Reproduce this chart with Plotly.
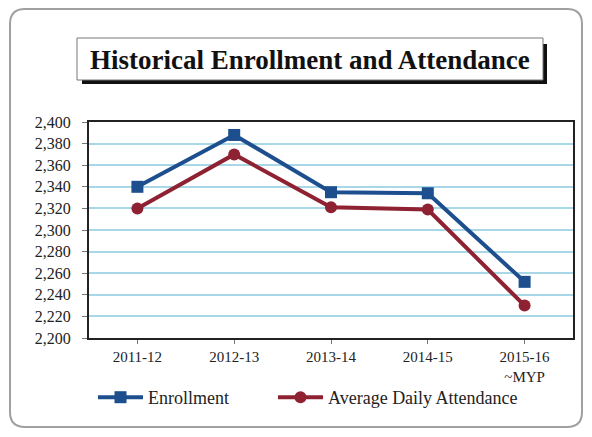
import plotly.graph_objects as go

years = ["2011-12", "2012-13", "2013-14", "2014-15", "2015-16<br>~MYP"]
enrollment = [2340, 2388, 2335, 2334, 2252]
attendance = [2320, 2370, 2321, 2319, 2230]
y_ticks = list(range(2200, 2401, 20))
y_labels = [f"{v:,}" for v in y_ticks]

blue = "#1D4F8F"
red = "#8E2232"
font_serif = "Liberation Serif"

# page has 8px body margin; figure coordinates are reference coords minus 8
W, H = 576, 421
L, R, T, B = 81, 11, 114, 91

fig = go.Figure()
fig.add_trace(go.Scatter(
    x=years, y=enrollment, mode="lines+markers", name="Enrollment",
    line=dict(color=blue, width=4),
    marker=dict(symbol="square", size=12, color=blue),
    legend="legend",
))
fig.add_trace(go.Scatter(
    x=years, y=attendance, mode="lines+markers", name="Average Daily Attendance",
    line=dict(color=red, width=4),
    marker=dict(symbol="circle", size=12, color=red),
    legend="legend2",
))

pw = W - L - R
ph = H - T - B
def px(x):
    return (x - 8 - L) / pw
def py(y):
    return (H - B - (y - 8)) / ph

r = 15
x0, x1, y0, y1 = 10, 582, 9, 427
path = (f"M {px(x0+r):.4f},{py(y0):.4f} L {px(x1-r):.4f},{py(y0):.4f} Q {px(x1):.4f},{py(y0):.4f} {px(x1):.4f},{py(y0+r):.4f} "
        f"L {px(x1):.4f},{py(y1-r):.4f} Q {px(x1):.4f},{py(y1):.4f} {px(x1-r):.4f},{py(y1):.4f} "
        f"L {px(x0+r):.4f},{py(y1):.4f} Q {px(x0):.4f},{py(y1):.4f} {px(x0):.4f},{py(y1-r):.4f} "
        f"L {px(x0):.4f},{py(y0+r):.4f} Q {px(x0):.4f},{py(y0):.4f} {px(x0+r):.4f},{py(y0):.4f} Z")

shapes = [
    dict(type="path", xref="paper", yref="paper", path=path,
         line=dict(color="#A0A0A0", width=2), fillcolor="rgba(0,0,0,0)", layer="above"),
    # title shadow
    dict(type="rect", xref="paper", yref="paper", x0=px(82), x1=px(547),
         y0=py(84), y1=py(44), line=dict(width=0), fillcolor="#111", layer="above"),
    # title box
    dict(type="rect", xref="paper", yref="paper", x0=px(77), x1=px(543),
         y0=py(80), y1=py(38), line=dict(color="#777", width=1), fillcolor="white",
         layer="above"),
]

legend_common = dict(orientation="h", xanchor="left", yanchor="top",
                     font=dict(family=font_serif, size=18, color="#222"),
                     itemwidth=45, bgcolor="rgba(0,0,0,0)")

fig.update_layout(
    width=W, height=H,
    margin=dict(l=L, r=R, t=T, b=B, autoexpand=False),
    paper_bgcolor="white", plot_bgcolor="white",
    font=dict(family=font_serif, size=15, color="#222"),
    showlegend=True,
    legend=dict(x=px(93), y=py(379), **legend_common),
    legend2=dict(x=px(273), y=py(379), **legend_common),
    xaxis=dict(type="category", showline=True, linecolor="#222", linewidth=2,
               mirror=True, showgrid=False, ticks="outside", ticklen=4,
               tickcolor="#777", tickfont=dict(size=15), range=[-0.5, 4.5],
               automargin=False),
    yaxis=dict(range=[2200, 2400], tickvals=y_ticks, ticktext=y_labels,
               showline=True, linecolor="#222", linewidth=2, mirror=True,
               gridcolor="#A8D8E8", gridwidth=1.5, ticks="outside", ticklen=5,
               tickcolor="#777", tickfont=dict(size=16), zeroline=False,
               ticklabelstandoff=8, automargin=False),
    shapes=shapes,
)

fig.add_annotation(xref="paper", yref="paper", x=px(310), y=py(60), xanchor="center",
                   yanchor="middle", showarrow=False,
                   text="<b>Historical Enrollment and Attendance</b>",
                   font=dict(family=font_serif, size=27, color="#111"))

fig.write_html("out.html")
